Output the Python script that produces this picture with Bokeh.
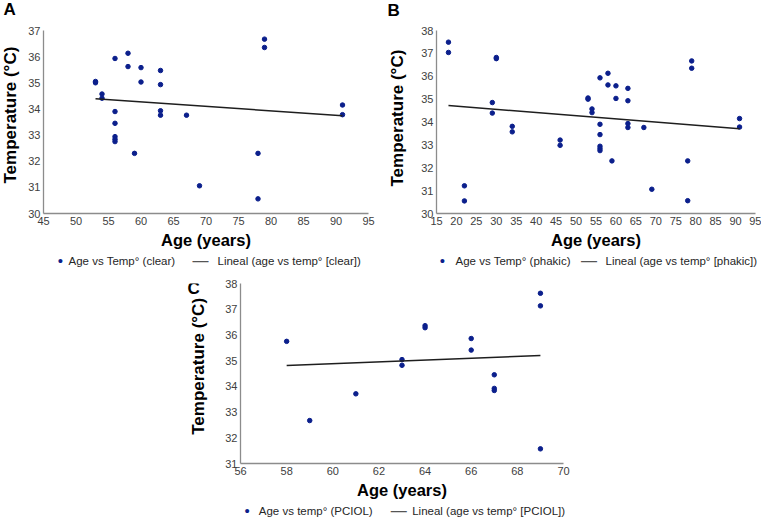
import math
from bokeh.plotting import figure
from bokeh.layouts import column, row
from bokeh.models import Range1d, FixedTicker, Label
from bokeh.embed import file_html
from bokeh.resources import INLINE

FONT = "Liberation Sans"
DOT = "#0b1f8c"
LINE = "#1e1e1e"
AXIS = "#8c8c8c"
TICK = "#404040"

# ---------------- data ----------------
clear_age = [53, 53, 54, 54, 56, 56, 56, 56, 56, 56, 58, 58, 59, 60, 60,
             63, 63, 63, 63, 67, 69, 78, 78, 79, 79, 91, 91]
clear_temp = [35.05, 35.0, 34.57, 34.41, 35.93, 33.9, 33.45, 32.94, 32.84, 32.75,
              36.13, 35.62, 32.3, 35.58, 35.03, 35.47, 34.93, 33.93, 33.76, 33.76,
              31.06, 32.3, 30.56, 36.67, 36.35, 34.15, 33.78]
clear_fit_age = [53, 91]
clear_fit_temp = [34.39, 33.74]

phakic_age = [18, 18, 22, 22, 29, 29, 30, 30, 34, 34, 46, 46,
              53, 53, 54, 54, 56, 56, 56, 56, 56, 56, 58, 58, 59, 60, 60,
              63, 63, 63, 63, 67, 69, 78, 78, 79, 79, 91, 91]
phakic_temp = [37.49, 37.04, 31.21, 30.55, 34.85, 34.39, 36.82, 36.77, 33.81, 33.57,
               33.21, 32.98,
               35.05, 35.0, 34.57, 34.41, 35.93, 33.9, 33.45, 32.94, 32.84, 32.75,
               36.13, 35.62, 32.3, 35.58, 35.03, 35.47, 34.93, 33.93, 33.76, 33.76,
               31.06, 32.3, 30.56, 36.67, 36.35, 34.15, 33.78]
phakic_fit_age = [18, 91]
phakic_fit_temp = [34.72, 33.71]

pciol_age = [58, 59, 61, 63, 63, 64, 64, 66, 66, 67, 67, 67, 69, 69, 69]
pciol_temp = [35.75, 32.67, 33.71, 35.04, 34.82, 36.36, 36.28, 35.86, 35.41,
              34.45, 33.92, 33.84, 37.62, 37.13, 31.57]
pciol_fit_age = [58, 69]
pciol_fit_temp = [34.81, 35.2]

a_xticks = [45, 50, 55, 60, 65, 70, 75, 80, 85, 90, 95]
a_yticks = [30, 31, 32, 33, 34, 35, 36, 37]
b_xticks = [15, 20, 25, 30, 35, 40, 45, 50, 55, 60, 65, 70, 75, 80, 85, 90, 95]
b_yticks = [30, 31, 32, 33, 34, 35, 36, 37, 38]
c_xticks = [56, 58, 60, 62, 64, 66, 68, 70]
c_yticks = [31, 32, 33, 34, 35, 36, 37, 38]

x_title = "Age (years)"
y_title = "Temperature (°C)"
legend_a = ["Age vs Temp° (clear)", "Lineal (age vs temp° [clear])"]
legend_b = ["Age vs Temp° (phakic)", "Lineal (age vs temp° [phakic])"]
legend_c = ["Age vs temp° (PCIOL)", "Lineal (age vs temp° [PCIOL])"]


def lab(p, x, y, text, size, color="black", bold=False, angle=0.0,
        align="left", baseline="middle"):
    p.add_layout(Label(x=x, y=y, x_units="screen", y_units="screen", text=text,
                       angle=angle, text_align=align, text_baseline=baseline,
                       text_font=FONT, text_font_size=size,
                       text_font_style="bold" if bold else "normal",
                       text_color=color))


def strip(w, h):
    """Axis-less figure that only holds text (titles, panel letters, legends)."""
    s = figure(width=w, height=h, x_range=Range1d(0, 1), y_range=Range1d(0, 1),
               x_axis_type=None, y_axis_type=None, output_backend="svg",
               toolbar_location=None, min_border=0)
    s.outline_line_color = None
    s.grid.visible = False
    return s


def panel(w, h, bl, br, bt, bb, xt, yt, xs, ys, fx, fy):
    p = figure(width=w, height=h,
               x_range=Range1d(xt[0], xt[-1]), y_range=Range1d(yt[0], yt[-1]),
               output_backend="svg", toolbar_location=None,
               min_border_left=bl, min_border_right=br,
               min_border_top=bt, min_border_bottom=bb)
    p.xgrid.visible = False
    p.ygrid.visible = False
    p.outline_line_color = None
    p.xaxis.ticker = FixedTicker(ticks=xt)
    p.yaxis.ticker = FixedTicker(ticks=yt)
    for ax in (p.xaxis[0], p.yaxis[0]):
        ax.axis_line_color = AXIS
        ax.axis_line_width = 1.3
        ax.major_tick_line_color = None
        ax.minor_tick_line_color = None
        ax.major_tick_out = 0
        ax.major_tick_in = 0
        ax.major_label_text_font = FONT
        ax.major_label_text_font_size = "11px"
        ax.major_label_text_color = TICK
        ax.major_label_standoff = 3
    p.xaxis.axis_label = x_title
    p.xaxis.axis_label_text_font = FONT
    p.xaxis.axis_label_text_font_style = "bold"
    p.xaxis.axis_label_text_font_size = "16.5px"
    p.xaxis.axis_label_text_color = "black"
    p.xaxis.axis_label_standoff = 3

    p.scatter(xs, ys, size=4.5, color=DOT, line_color=DOT)
    p.line(fx, fy, line_color=LINE, line_width=1.5)
    return p


def side(w, h, yt_x, yt_y):
    # in a row its frame is aligned with the neighbouring plot's frame
    s = strip(w, h)
    lab(s, yt_x, yt_y, y_title, "17px", bold=True, angle=math.pi / 2)
    return s


def legend(s, labels, dot_x, t1_x, ln_x, t2_x, y):
    lab(s, dot_x, y, "•", "15px", color=DOT, align="center")
    lab(s, t1_x, y, labels[0], "11.5px", color="#262626")
    lab(s, ln_x, y, "—", "16px", color="#555555", align="center")
    lab(s, t2_x, y, labels[1], "11.5px", color="#262626")


# top strip with the panel letters A and B
top = strip(761, 22)
lab(top, 3, 13, "A", "17px", bold=True)
lab(top, 387, 12.5, "B", "17px", bold=True)

# row 1 : panels A and B
pA = panel(355, 231, 16, 12, 8, 40, a_xticks, a_yticks, clear_age, clear_temp,
           clear_fit_age, clear_fit_temp)
pB = panel(343, 231, 16, 6, 8, 40, b_xticks, b_yticks, phakic_age, phakic_temp,
           phakic_fit_age, phakic_fit_temp)
sideA = side(25, 231, 10, 30)
sideB = side(38, 231, 16.5, 27)
leg1 = strip(761, 16)
legend(leg1, legend_a, 60, 68, 200, 217, 9)
legend(leg1, legend_b, 442, 455, 588.5, 605, 9)

# row 2 : panel C
pC = panel(378, 233, 16, 37, 14, 39, c_xticks, c_yticks, pciol_age, pciol_temp,
           pciol_fit_age, pciol_fit_temp)
sideC = side(222, 233, 198, 28.7)
lab(sideC, 187, 175, "C", "17px", bold=True)
leg2 = strip(761, 16)
legend(leg2, legend_c, 246.7, 258.3, 398.3, 411.7, 8)

layout = column(top, row(sideA, pA, sideB, pB), leg1, row(sideC, pC), leg2)

open("out.html", "w").write(file_html(layout, INLINE))
